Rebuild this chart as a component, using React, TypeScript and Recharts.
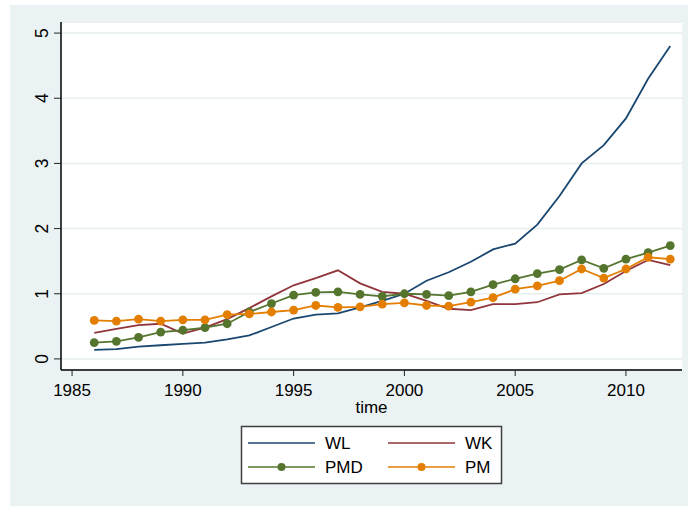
import React from "react";
import {
  LineChart,
  Line,
  XAxis,
  YAxis,
  CartesianGrid,
  Label,
} from "recharts";

const years = [
  1986, 1987, 1988, 1989, 1990, 1991, 1992, 1993, 1994, 1995, 1996, 1997, 1998, 1999,
  2000, 2001, 2002, 2003, 2004, 2005, 2006, 2007, 2008, 2009, 2010, 2011, 2012,
];

const wl = [
  0.14, 0.15, 0.19, 0.21, 0.23, 0.25, 0.3, 0.36, 0.49, 0.62, 0.68, 0.7, 0.79, 0.89,
  1.0, 1.2, 1.33, 1.49, 1.68, 1.77, 2.06, 2.5, 3.0, 3.28, 3.69, 4.3, 4.8,
];
const wk = [
  0.4, 0.46, 0.52, 0.54, 0.39, 0.48, 0.61, 0.78, 0.96, 1.13, 1.24, 1.36, 1.16, 1.03,
  1.0, 0.89, 0.77, 0.75, 0.84, 0.84, 0.87, 0.99, 1.01, 1.15, 1.35, 1.52, 1.44,
];
const pmd = [
  0.25, 0.27, 0.33, 0.41, 0.44, 0.48, 0.54, 0.72, 0.85, 0.98, 1.02, 1.03, 0.99, 0.96,
  1.0, 0.99, 0.97, 1.03, 1.14, 1.23, 1.31, 1.37, 1.52, 1.39, 1.53, 1.63, 1.74,
];
const pm = [
  0.59, 0.58, 0.61, 0.58, 0.6, 0.6, 0.68, 0.69, 0.72, 0.75, 0.82, 0.79, 0.8, 0.84,
  0.86, 0.82, 0.81, 0.87, 0.94, 1.07, 1.12, 1.2, 1.38, 1.24, 1.38, 1.56, 1.53,
];

const xTicks = [1985, 1990, 1995, 2000, 2005, 2010];
const yTicks = [0, 1, 2, 3, 4, 5];

const COLORS = {
  WL: "#1a476f",
  WK: "#90353b",
  PMD: "#55752f",
  PM: "#e37e00",
};

const FONT = '"Liberation Sans", Arial, Helvetica, sans-serif';

const chartData = years.map((year, i) => ({
  year,
  WL: wl[i],
  WK: wk[i],
  PMD: pmd[i],
  PM: pm[i],
}));

// vertical y tick labels, like Stata draws them
const YTick = ({ x, y, payload }: any) => (
  <text
    x={x}
    y={y}
    transform={`rotate(-90 ${x} ${y})`}
    textAnchor="middle"
    fontSize={17.5}
    fontFamily={FONT}
    fill="#000"
  >
    {payload.value}
  </text>
);

const legendItems = [
  { name: "WL", color: COLORS.WL, dot: false, x: 248, y: 443 },
  { name: "WK", color: COLORS.WK, dot: false, x: 388, y: 443 },
  { name: "PMD", color: COLORS.PMD, dot: true, x: 248, y: 467 },
  { name: "PM", color: COLORS.PM, dot: true, x: 388, y: 467 },
];

const ChartLegend = () => (
  <svg
    width={688}
    height={506}
    style={{ position: "absolute", left: 0, top: 0, pointerEvents: "none" }}
  >
    <rect x={241.5} y={426.5} width={260} height={57} fill="#fff" stroke="#404040" strokeWidth={1.5} />
    {legendItems.map((item) => (
      <g key={item.name}>
        <line x1={item.x} x2={item.x + 67} y1={item.y} y2={item.y} stroke={item.color} strokeWidth={1.5} />
        {item.dot && <circle cx={item.x + 33.5} cy={item.y} r={4} fill={item.color} />}
        <text
          x={item.x + 77}
          y={item.y}
          dominantBaseline="central"
          fontSize={17}
          fontFamily={FONT}
          fill="#000"
        >
          {item.name}
        </text>
      </g>
    ))}
  </svg>
);

export default function App() {
  return (
    <div style={{ position: "absolute", left: 0, top: 0, width: 688, height: 506, background: "#fff" }}>
      <div
        style={{ position: "absolute", left: 10, top: 5, width: 678, height: 501, background: "#eaf2f3" }}
      />
      <div style={{ position: "absolute", left: 0, top: 0 }}>
        <LineChart
          width={688}
          height={506}
          data={chartData}
          margin={{ top: 22, right: 6, left: 10, bottom: 88 }}
        >
          <CartesianGrid vertical={false} stroke="#e6eef0" strokeWidth={1.5} fill="#fff" />
          <XAxis
            dataKey="year"
            type="number"
            domain={[1984.5, 2012.53]}
            ticks={xTicks}
            allowDataOverflow
            height={48}
            tickSize={6}
            tickMargin={8}
            axisLine={{ stroke: "#000", strokeWidth: 1.5 }}
            tickLine={{ stroke: "#222" }}
            tick={{ fontSize: 17, fontFamily: FONT, fill: "#000" }}
          >
            <Label
              value="time"
              position="insideBottom"
              offset={5}
              style={{ fontSize: 17, fontFamily: FONT, fill: "#000" }}
            />
          </XAxis>
          <YAxis
            type="number"
            domain={[-0.17, 5.17]}
            ticks={yTicks}
            allowDataOverflow
            width={51}
            tickSize={7}
            tickMargin={6}
            axisLine={{ stroke: "#000", strokeWidth: 1.5 }}
            tickLine={{ stroke: "#222" }}
            tick={<YTick />}
          />
          <Line
            dataKey="WL"
            stroke={COLORS.WL}
            strokeWidth={1.8}
            dot={false}
            isAnimationActive={false}
          />
          <Line
            dataKey="WK"
            stroke={COLORS.WK}
            strokeWidth={1.8}
            dot={false}
            isAnimationActive={false}
          />
          <Line
            dataKey="PMD"
            stroke={COLORS.PMD}
            strokeWidth={1.8}
            dot={{ r: 4.4, fill: COLORS.PMD, stroke: COLORS.PMD, strokeWidth: 0 }}
            isAnimationActive={false}
          />
          <Line
            dataKey="PM"
            stroke={COLORS.PM}
            strokeWidth={1.8}
            dot={{ r: 4.4, fill: COLORS.PM, stroke: COLORS.PM, strokeWidth: 0 }}
            isAnimationActive={false}
          />
        </LineChart>
      </div>
      <ChartLegend />
    </div>
  );
}
